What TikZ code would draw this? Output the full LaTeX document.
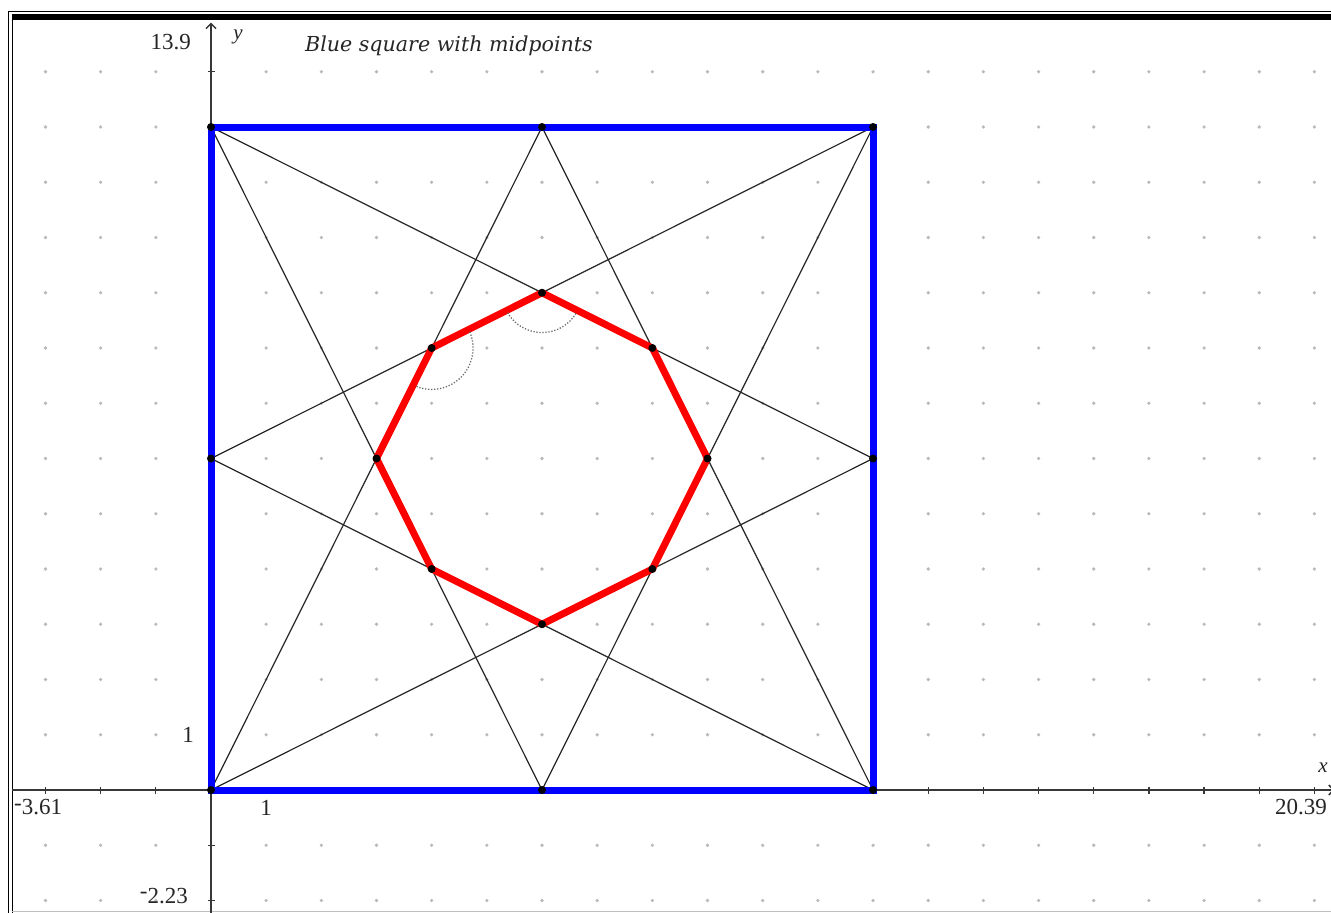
\documentclass[tikz,border=0pt]{standalone}
\usepackage{fontspec}
\setmainfont{Liberation Serif}
\newfontfamily\titlefont{DejaVu Serif}
\usetikzlibrary{arrows.meta}
\definecolor{sqblue}{RGB}{0,0,255}
\definecolor{octred}{RGB}{255,0,0}
\definecolor{axisgray}{RGB}{55,55,55}
\definecolor{dotgray}{RGB}{185,185,185}
\newcommand{\negsign}{\raisebox{4.5pt}{-}}
\begin{document}
\begin{tikzpicture}[x=1pt,y=-1pt,
  frameline/.style={line width=1pt,black},
  axisline/.style={line width=1.5pt,axisgray},
  tickmark/.style={line width=1.3pt,axisgray},
  gdot/.style={circle,fill=dotgray,draw=none,inner sep=0pt,minimum size=3.6pt},
  sqside/.style={line width=7pt,sqblue,line join=miter},
  octside/.style={line width=7pt,octred,line join=round},
  ray/.style={line width=1.2pt,black!85},
  vertex/.style={circle,fill=black,draw=none,inner sep=0pt,minimum size=8pt},
  anglemark/.style={line width=1.3pt,black!60,dash pattern=on 1.2pt off 1.8pt},
  numlabel/.style={font=\fontsize{23}{23}\selectfont,text=black!85,inner sep=0pt},
  varlabel/.style={font=\fontsize{21}{21}\selectfont\itshape,text=black!85,inner sep=0pt},
  titlelabel/.style={font=\titlefont\itshape\fontsize{20.6}{20.6}\selectfont,text=black!85,inner sep=0pt},
  axistip/.style={-{Straight Barb[length=5pt,width=10pt,line width=1.5pt]}},
]
\useasboundingbox (0,0) rectangle (1331,913);
\fill[white] (0,0) rectangle (1331,913);

% frame
\draw[frameline] (8,913) -- (8,11) -- (1331,11);
\fill[black] (12,14) rectangle (1331,20);
\draw[frameline] (12,14) -- (12,913);
\draw[line width=1pt,black!25] (12,911) -- (1331,911);

% title
\node[titlelabel,anchor=west] (title) at (305,46) {Blue square with midpoints};

\begin{scope}[shift={(211,790)},x=55.17pt,y=55.25pt]
  % grid dots
  \foreach \i in {-3,...,20}{
    \foreach \j in {-2,...,13}{
      \ifnum\i=0\relax\else\ifnum\j=0\relax\else
        \node[gdot] (g\i\j) at (\i,\j) {};
      \fi\fi
    }
  }
  % axes
  \coordinate (xs) at (-3.61,0);
  \coordinate (xe) at (20.37,0);
  \coordinate (ys) at (0,-2.23);
  \coordinate (ye) at (0,13.89);
  \draw[axisline,axistip] (xs) -- (xe);
  \draw[axisline,axistip] (ys) -- (ye);
  \foreach \i in {-3,-2,-1,1,2,...,20}{
    \draw[tickmark] (\i,0) ++(0,-3.5pt) -- ++(0,7pt);
  }
  \foreach \j in {-2,-1,1,2,...,13}{
    \draw[tickmark] (0,\j) ++(-3.5pt,0) -- ++(7pt,0);
  }

  % square points
  \coordinate (A) at (0,0);
  \coordinate (B) at (12,0);
  \coordinate (C) at (12,12);
  \coordinate (D) at (0,12);
  \coordinate (MAB) at (6,0);
  \coordinate (MBC) at (12,6);
  \coordinate (MCD) at (6,12);
  \coordinate (MDA) at (0,6);
  % octagon points
  \coordinate (P1) at (6,9);
  \coordinate (P2) at (8,8);
  \coordinate (P3) at (9,6);
  \coordinate (P4) at (8,4);
  \coordinate (P5) at (6,3);
  \coordinate (P6) at (4,4);
  \coordinate (P7) at (3,6);
  \coordinate (P8) at (4,8);

  % rays
  \draw[ray] (A) -- (MCD);
  \draw[ray] (A) -- (MBC);
  \draw[ray] (B) -- (MCD);
  \draw[ray] (B) -- (MDA);
  \draw[ray] (C) -- (MAB);
  \draw[ray] (C) -- (MDA);
  \draw[ray] (D) -- (MAB);
  \draw[ray] (D) -- (MBC);

  % blue square
  \draw[sqside] (A) -- (B) -- (C) -- (D) -- cycle;
  % red octagon
  \draw[octside] (P1) -- (P2) -- (P3) -- (P4) -- (P5) -- (P6) -- (P7) -- (P8) -- cycle;

  % angle marks
  \draw[anglemark] (P1) ++(210:0.72) arc[start angle=210,end angle=330,radius=0.72];
  \draw[anglemark] (P8) ++(23:0.75) arc[start angle=23,end angle=-112,radius=0.75];

  % vertex dots
  \foreach \p in {A,B,C,D,MAB,MBC,MCD,MDA,P1,P2,P3,P4,P5,P6,P7,P8}{
    \node[vertex] (d\p) at (\p) {};
  }
\end{scope}

% axis labels
\node[numlabel,anchor=east] (ymax) at (191,42) {13.9};
\node[numlabel,anchor=east] (ymin) at (188,896) {\negsign2.23};
\node[numlabel] (yone) at (188,735) {1};
\node[numlabel,anchor=west] (xmin) at (14,807.5) {\negsign3.61};
\node[numlabel] (xone) at (266,808) {1};
\node[numlabel,anchor=east] (xmax) at (1327,807) {20.39};
\node[varlabel] (ylab) at (238,37) {y};
\node[varlabel] (xlab) at (1323,768) {x};
\end{tikzpicture}
\end{document}
